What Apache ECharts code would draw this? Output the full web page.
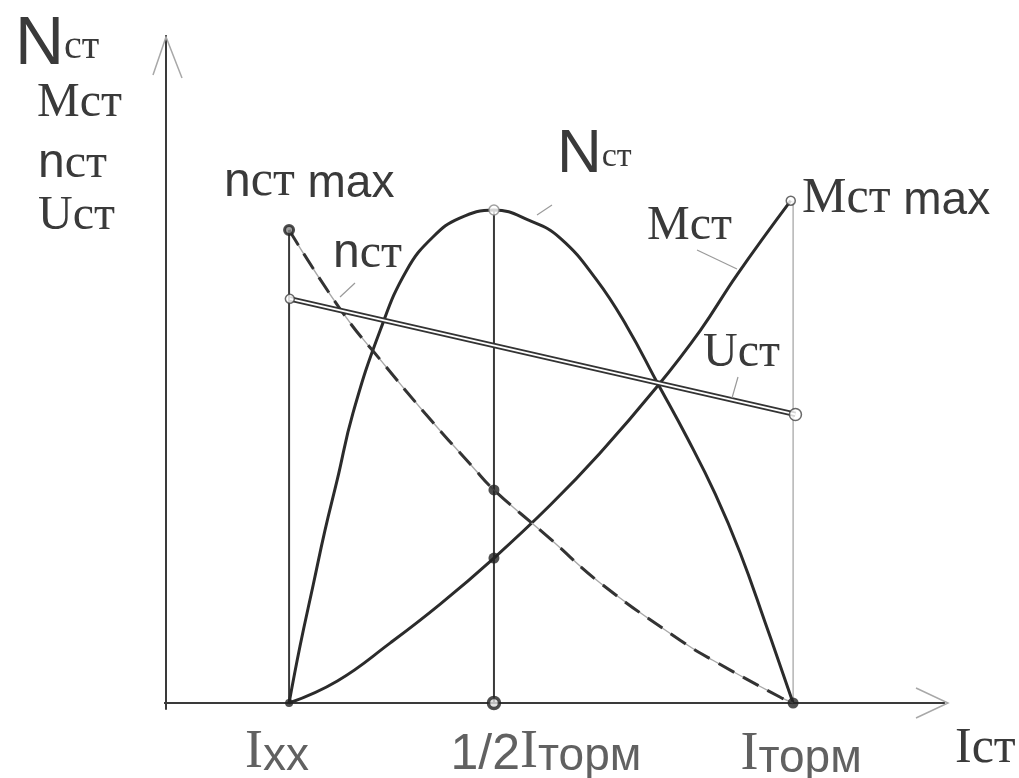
<!DOCTYPE html>
<html><head><meta charset="utf-8">
<script src="https://cdn.jsdelivr.net/npm/echarts@6/dist/echarts.min.js"></script>
<style>html,body{margin:0;padding:0;background:#fff}#c{width:1019px;height:778px}</style>
</head><body><div id="c"></div>
<script>
// ---- data (arbitrary units) ----
const xTicks = [15.8, 42.1, 80.5];               // Ixx, 1/2 Iторм, Iторм
const xTickLabels = ['Ixx', '1/2Iторм', 'Iторм'];
const powerN = [[15.8,0],[17.2,8.5],[18.9,17.7],[20.4,25.8],[22.0,33.5],[24.0,43.4],[27.5,55.8],[30.9,64.8],[34.3,69.8],[37.7,72.6],[42.1,73.8],[46.7,72.2],[50.6,69.6],[55.3,63.3],[59.2,56.3],[63.0,48.1],[66.9,39.7],[70.5,31.3],[73.7,22.5],[76.9,12.1],[80.5,0]];
const torqueM = [[15.8,0],[22.0,3.3],[28.8,9.0],[35.2,14.8],[42.1,21.7],[49.3,29.6],[55.7,37.4],[63.0,47.3],[68.6,55.8],[73.3,64.1],[80.2,75.2]];
const speedN = [[15.8,70.8],[22.7,58.4],[27.5,51.4],[33.3,43.3],[39.4,35.3],[42.1,31.9],[49.3,24.6],[55.7,18.0],[66.0,9.4],[70.2,6.4],[78.8,0.9],[80.5,0]];
const voltageU = [[15.9,60.5],[80.8,43.2]];

const nMax = speedN[0], nPeak = powerN[10], mMax = torqueM[torqueM.length-1], nHalf = speedN[5], mHalf = torqueM[4];
const INK = '#2b2b2b';

const serif = 'Liberation Serif', sans = 'Liberation Sans';
const TXT = '#3a3a3a';
const rich = {
  NB: {fontFamily: sans, fontSize: 68, color: TXT, verticalAlign: 'bottom'},
  Nm: {fontFamily: sans, fontSize: 62, color: TXT, verticalAlign: 'bottom'},
  cs: {fontFamily: serif, fontSize: 40, color: TXT, verticalAlign: 'bottom', padding: [0,0,12,0]},
  cm: {fontFamily: serif, fontSize: 34, color: TXT, verticalAlign: 'bottom', padding: [0,0,12,0]},
  S: {fontFamily: serif, fontSize: 48, color: TXT, verticalAlign: 'bottom'},
  S2: {fontFamily: serif, fontSize: 50, color: TXT, verticalAlign: 'bottom'},
  n: {fontFamily: sans, fontSize: 48, color: TXT, verticalAlign: 'bottom'},
  s: {fontFamily: sans, fontSize: 46, color: TXT, verticalAlign: 'bottom'}
};
function txt(x, y, text) {
  return {type: 'text', x: x, y: y, z: 100, style: {text: text, rich: rich, verticalAlign: 'bottom', fill: TXT}};
}
function leader(x1, y1, x2, y2) {
  return {type: 'line', z: 90, shape: {x1, y1, x2, y2}, style: {stroke: '#9a9a9a', lineWidth: 1.2}};
}
function chevron(points) {
  return {type: 'polyline', z: 90, shape: {points: points}, style: {stroke: '#a8a8a8', lineWidth: 1.5, fill: null}};
}

const chart = echarts.init(document.getElementById('c'), null, {renderer: 'canvas'});
const lineBase = {type: 'line', symbol: 'none', silent: true, clip: false, animation: false};
const curve = {smooth: 0.45};

chart.setOption({
  backgroundColor: '#ffffff',
  animation: false,
  grid: {left: 166, top: 35, right: 74, bottom: 75},
  xAxis: {type: 'value', min: 0, max: 100, show: false},
  yAxis: {type: 'value', min: 0, max: 100, show: false},
  graphic: [
    txt(15, 79, '{NB|N}{cs|ст}'),
    txt(37, 127, '{S|Mст}'),
    txt(38, 188, '{n|n}{S|ст}'),
    txt(38, 240, '{S|Uст}'),
    txt(224, 207, '{n|n}{S2|ст}{s| max}'),
    txt(333, 278, '{n|n}{S|ст}'),
    txt(557, 186, '{Nm|N}{cm|ст}'),
    txt(647, 250, '{S|Mст}'),
    txt(802, 224, '{S2|Mст}{s| max}'),
    txt(703, 377, '{S|Uст}'),
    txt(955, 774, '{S2|Iст}'),
    leader(355, 283, 340, 297),
    leader(537, 215, 552, 205),
    leader(697, 250, 737, 269),
    leader(738, 377, 732, 398),
    chevron([[153, 75], [166, 37], [182, 78]]),
    chevron([[916, 688], [948, 703], [916, 718]])
  ],
  series: [
    // axes
    Object.assign({}, lineBase, {data: [[-0.8,0],[100,0]], lineStyle: {color: '#3a3a3a', width: 2.2}}),
    Object.assign({}, lineBase, {data: [[0,-1],[0,100]], lineStyle: {color: '#3a3a3a', width: 2}}),
    // verticals
    Object.assign({}, lineBase, {data: [[xTicks[0],0],[xTicks[0],nMax[1]]], lineStyle: {color: '#3a3a3a', width: 2}}),
    Object.assign({}, lineBase, {data: [[xTicks[1],0],[xTicks[1],nPeak[1]]], lineStyle: {color: '#3a3a3a', width: 2}}),
    Object.assign({}, lineBase, {data: [[xTicks[2],0],[xTicks[2],mMax[1]]], lineStyle: {color: '#a0a0a0', width: 1.2}}),
    // power N
    Object.assign({}, lineBase, curve, {name: 'Nст', data: powerN, lineStyle: {color: INK, width: 3}}),
    // torque M
    Object.assign({}, lineBase, curve, {name: 'Mст', data: torqueM, lineStyle: {color: INK, width: 3}}),
    // speed n (dashed over light line)
    Object.assign({}, lineBase, curve, {data: speedN, lineStyle: {color: '#a8a8a8', width: 1.4}}),
    Object.assign({}, lineBase, curve, {name: 'nст', data: speedN, lineStyle: {color: '#333', width: 3, type: [18, 10]}}),
    // voltage U (double line)
    Object.assign({}, lineBase, {name: 'Uст', data: voltageU, lineStyle: {color: '#333', width: 5.5}}),
    Object.assign({}, lineBase, {data: voltageU, lineStyle: {color: '#ffffff', width: 1.8}}),
    // open markers
    {type: 'scatter', silent: true, animation: false, z: 5, symbol: 'circle', clip: false,
     data: [
       {value: nPeak, symbolSize: 10, itemStyle: {color: '#fff', borderColor: '#888', borderWidth: 1.5}},
       {value: mMax, symbolSize: 9, itemStyle: {color: '#fff', borderColor: '#444', borderWidth: 1.5}},
       {value: voltageU[0], symbolSize: 9, itemStyle: {color: '#fff', borderColor: '#444', borderWidth: 1.5}},
       {value: voltageU[1], symbolSize: 12, itemStyle: {color: '#fff', borderColor: '#444', borderWidth: 1.5}}
     ]},
    // filled / ring markers
    {type: 'scatter', silent: true, animation: false, z: 6, symbol: 'circle', clip: false,
     data: [
       {value: nMax, symbolSize: 9, itemStyle: {color: '#888', borderColor: '#222', borderWidth: 3}},
       {value: nHalf, symbolSize: 11, itemStyle: {color: '#222'}},
       {value: mHalf, symbolSize: 11, itemStyle: {color: '#222'}},
       {value: [xTicks[0], 0], symbolSize: 8, itemStyle: {color: '#222'}},
       {value: [xTicks[1], 0], symbolSize: 11, itemStyle: {color: '#ddd', borderColor: '#222', borderWidth: 3.5}},
       {value: [xTicks[2], 0], symbolSize: 11, itemStyle: {color: '#222'}}
     ]},
    // tick labels
    {type: 'scatter', silent: true, animation: false, z: 7, symbolSize: 0, clip: false,
     data: xTicks.map((v, i) => ({value: [v, 0], name: xTickLabels[i],
       label: {offset: [[-12, 18], [52, 18], [8, 20]][i]}})),
     label: {show: true, position: 'bottom', color: TXT,
       formatter: p => {
         const parts = p.name.split('I');
         return (parts[0] ? '{d|' + parts[0] + '}' : '') + '{I|I}' + '{t|' + parts[1] + '}';
       },
       rich: {
         I: {fontFamily: serif, fontSize: 54, color: TXT, verticalAlign: 'bottom'},
         d: {fontFamily: sans, fontSize: 50, color: TXT, verticalAlign: 'bottom'},
         t: {fontFamily: sans, fontSize: 46, color: TXT, verticalAlign: 'bottom'}
       }}
    }
  ]
});
</script>
</body></html>
